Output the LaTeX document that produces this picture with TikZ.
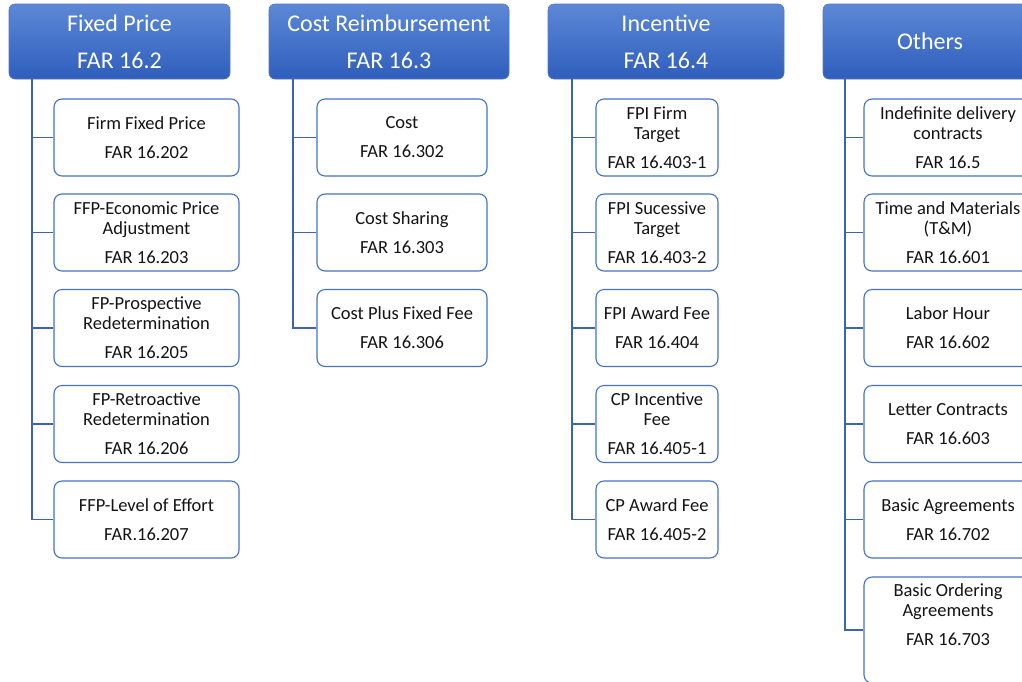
\documentclass[tikz,border=0pt]{standalone}
\usepackage{fontspec}
\setmainfont{Carlito}
\definecolor{hdrtop}{RGB}{92,136,214}
\definecolor{hdrbot}{RGB}{47,94,188}
\definecolor{hdredge}{RGB}{80,120,200}
\definecolor{boxedge}{RGB}{68,114,196}
\definecolor{linkc}{RGB}{62,100,176}
\definecolor{txt}{RGB}{20,20,20}
\begin{document}
\begin{tikzpicture}[x=1pt,y=-1pt,
  hdr/.style={rounded corners=6pt, top color=hdrtop, bottom color=hdrbot,
    draw=hdredge, line width=0.6pt, text=white, align=center,
    font=\fontsize{24}{37}\selectfont, inner sep=0pt, minimum height=75pt},
  item/.style={rounded corners=8pt, draw=boxedge, line width=1.1pt, fill=white,
    align=center, font=\fontsize{18.5}{20}\selectfont, text=txt,
    minimum height=77pt, inner sep=0pt},
  itemtext/.style={align=center, font=\fontsize{18.5}{20}\selectfont, text=txt, inner sep=0pt},
  link/.style={draw=linkc, line width=1.4pt}
]
\useasboundingbox (0,0) rectangle (1022,681);
\clip (0,0) rectangle (1022,681);
\fill[white] (0,0) rectangle (1022,681);

% column headers
\node[hdr, minimum width=221pt] (h1) at (119.5,41.5) {Fixed Price\\FAR 16.2};
\node[hdr, minimum width=240pt] (h2) at (389,41.5) {Cost Reimbursement\\FAR 16.3};
\node[hdr, minimum width=236pt] (h3) at (666,41.5) {Incentive\\FAR 16.4};
\node[hdr, minimum width=214pt] (h4) at (930,41.5) {Others};

% trunk positions
\coordinate (k1) at (32,0);
\coordinate (k2) at (293,0);
\coordinate (k3) at (572,0);
\coordinate (k4) at (845,0);

% Fixed Price
\begin{scope}[every node/.append style={minimum width=185pt}]
\node[item] (a1) at (146.5,137.5) {Firm Fixed Price\\[9pt]FAR 16.202};
\node[item] (a2) at (146.5,232.5) {FFP-Economic Price\\Adjustment\\[9pt]FAR 16.203};
\node[item] (a3) at (146.5,328) {FP-Prospective\\Redetermination\\[9pt]FAR 16.205};
\node[item] (a4) at (146.5,424) {FP-Retroactive\\Redetermination\\[9pt]FAR 16.206};
\node[item] (a5) at (146.5,519.5) {FFP-Level of Effort\\[9pt]FAR.16.207};
\end{scope}

% Cost Reimbursement
\begin{scope}[every node/.append style={minimum width=170pt}]
\node[item] (b1) at (402,137.5) {Cost\\[9pt]FAR 16.302};
\node[item] (b2) at (402,232.5) {Cost Sharing\\[9pt]FAR 16.303};
\node[item] (b3) at (402,328) {Cost Plus Fixed Fee\\[9pt]FAR 16.306};
\end{scope}

% Incentive
\begin{scope}[every node/.append style={minimum width=122pt}]
\node[item] (c1) at (657,137.5) {FPI Firm\\Target\\[9pt]FAR 16.403-1};
\node[item] (c2) at (657,232.5) {FPI Sucessive\\Target\\[9pt]FAR 16.403-2};
\node[item] (c3) at (657,328) {FPI Award Fee\\[9pt]FAR 16.404};
\node[item] (c4) at (657,424) {CP Incentive\\Fee\\[9pt]FAR 16.405-1};
\node[item] (c5) at (657,519.5) {CP Award Fee\\[9pt]FAR 16.405-2};
\end{scope}

% Others
\begin{scope}[every node/.append style={minimum width=168pt}]
\node[item] (d1) at (948,137.5) {Indefinite delivery\\contracts\\[9pt]FAR 16.5};
\node[item] (d2) at (948,232.5) {Time and Materials\\(T\&M)\\[9pt]FAR 16.601};
\node[item] (d3) at (948,328) {Labor Hour\\[9pt]FAR 16.602};
\node[item] (d4) at (948,424) {Letter Contracts\\[9pt]FAR 16.603};
\node[item] (d5) at (948,519.5) {Basic Agreements\\[9pt]FAR 16.702};
\node[item, minimum height=106pt] (d6) at (948,630) {};
\node[itemtext] (d6t) at (948,615) {Basic Ordering\\Agreements\\[9pt]FAR 16.703};
\end{scope}

% connectors
\draw[link] (h1.south -| k1) |- (a5.west);
\foreach \n in {a1,a2,a3,a4} \draw[link] (k1 |- \n.west) -- (\n.west);
\draw[link] (h2.south -| k2) |- (b3.west);
\foreach \n in {b1,b2} \draw[link] (k2 |- \n.west) -- (\n.west);
\draw[link] (h3.south -| k3) |- (c5.west);
\foreach \n in {c1,c2,c3,c4} \draw[link] (k3 |- \n.west) -- (\n.west);
\draw[link] (h4.south -| k4) |- (d6.west);
\foreach \n in {d1,d2,d3,d4,d5} \draw[link] (k4 |- \n.west) -- (\n.west);
\end{tikzpicture}
\end{document}
